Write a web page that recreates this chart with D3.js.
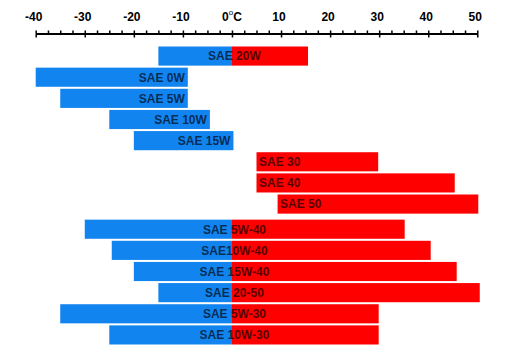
<!DOCTYPE html>
<html><head><meta charset="utf-8">
<script src="https://cdn.jsdelivr.net/npm/d3@7"></script>
<style>
html,body{margin:0;padding:0;background:#fff;}
svg{display:block;}
text{font-family:"Liberation Sans",Arial,sans-serif;font-weight:bold;}
</style></head><body>
<svg id="c" width="513" height="353"></svg>
<script>
// ---- data ----
const grades   = ["SAE 20W","SAE 0W","SAE 5W","SAE 10W","SAE 15W","SAE 30","SAE 40","SAE 50","SAE 5W-40","SAE10W-40","SAE 15W-40","SAE 20-50","SAE 5W-30","SAE 10W-30"];
const groups   = [0,0,0,0,0,0,0,0,1,1,1,1,1,1];
const coldFrom = [-15,-40,-35,-25,-20,null,null,null,-30,-24.5,-20,-15,-35,-25];
const coldTo   = [0,-9,-9,-4.5,0.3,null,null,null,0,0,0,0,0,0];
const hotFrom  = [0,null,null,null,null,5,5,9.3,0,0,0,0,0,0];
const hotTo    = [15.5,null,null,null,null,29.8,45.4,50.2,35.2,40.5,45.8,50.5,29.9,29.9];
const tickLabels = [-40,-30,-20,-10,0,10,20,30,40,50];
const minorStep = 2.5;

// ---- layout ----
const svg = d3.select("#c");
const x = d3.scaleLinear().domain([-40,50]).range([35.7,477.3]);
const pitch = 21, groupGap = 4, topY = 46.5;
const y = d3.scaleBand().domain(grades).range([topY, topY + grades.length*pitch]).paddingInner(2/21).paddingOuter(0);
const rows = grades.map((g,i)=>({name:g, grp:groups[i], c0:coldFrom[i], c1:coldTo[i], h0:hotFrom[i], h1:hotTo[i]}));
const yy = d => y(d.name) + d.grp*groupGap;

const BLUE = "#1184f0", RED = "#fe0000";

// bars
const g = svg.append("g");
g.selectAll("rect.cold").data(rows.filter(d=>d.c0!==null)).join("rect")
  .attr("x", d=>x(d.c0)).attr("width", d=>x(d.c1)-x(d.c0))
  .attr("y", yy).attr("height", y.bandwidth()).attr("fill", BLUE);
g.selectAll("rect.hot").data(rows.filter(d=>d.h0!==null)).join("rect")
  .attr("x", d=>x(d.h0)).attr("width", d=>x(d.h1)-x(d.h0))
  .attr("y", yy).attr("height", y.bandwidth()).attr("fill", RED);

// labels
g.selectAll("text.lbl").data(rows).join("text")
  .attr("font-size", 12)
  .attr("fill", "#000").attr("fill-opacity", 0.68)
  .attr("y", d=>yy(d)+y.bandwidth()/2).attr("dy","0.36em")
  .attr("x", d=>{
    if (d.c0!==null && d.h0!==null) return x(0)+2.5;
    if (d.c0!==null) return x(d.c1)-3;
    return x(d.h0)+2.5;
  })
  .attr("text-anchor", d=> (d.c0!==null && d.h0!==null) ? "middle" : (d.c0!==null ? "end" : "start"))
  .text(d=>d.name);

// axis
const axisY = 33.5;
const minorTicks = d3.range(-40, 50+0.001, minorStep);
const ax1 = svg.append("g").attr("transform",`translate(0,${axisY})`)
  .call(d3.axisTop(x).tickValues(minorTicks).tickSize(3).tickSizeOuter(0).tickFormat(""));
const ax2 = svg.append("g").attr("transform",`translate(0,${axisY})`)
  .call(d3.axisBottom(x).tickValues(tickLabels).tickSize(4).tickSizeOuter(0).tickFormat(""));
svg.selectAll(".domain").attr("stroke","#000").attr("stroke-width",2);
ax2.select(".domain").remove();
svg.selectAll(".tick line").attr("stroke","#000").attr("stroke-width",1.5);

// tick labels
const tl = svg.append("g").selectAll("text").data(tickLabels).join("text")
  .attr("x", d=>x(d)).attr("dx", d=> d===0 ? 0 : -2).attr("y", 21)
  .attr("text-anchor","middle").attr("font-size",12).attr("fill","#000");
tl.each(function(d){
  const t = d3.select(this);
  if (d===0){
    t.append("tspan").text("0");
    t.append("tspan").attr("font-size",8).attr("font-weight","normal").attr("dy",-6).text("o");
    t.append("tspan").attr("dy",6).text("C");
  } else t.text(d);
});
</script>
</body></html>
